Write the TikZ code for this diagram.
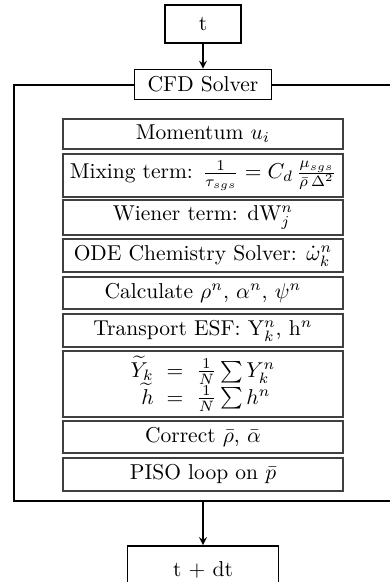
\documentclass[tikz,border=0pt]{standalone}
\usepackage{amsmath}
\begin{document}
\begin{tikzpicture}[x=0.465pt,y=-0.465pt,>=stealth,
  timebox/.style={draw,thick,inner sep=1pt},
  solverbox/.style={draw,fill=white,inner sep=1pt,minimum width=63.7pt,minimum height=14pt},
  stepbox/.style={draw=black!75,semithick,inner sep=1pt,minimum width=130.2pt}]
\useasboundingbox (0,0) rectangle (390,582);

% outer frame of the solver
\draw[thick] (14,85) rectangle (396,501);

\node[timebox,minimum width=35.3pt,minimum height=17.7pt] (t) at (203,24) {t};
\node[solverbox] (cfd) at (203,84) {CFD Solver};

\node[stepbox,minimum height=13.9pt] (mom) at (203,134) {Momentum $u_i$};
\node[stepbox,minimum height=20pt] (mix) at (203,175.5) {Mixing term: $\frac{1}{\tau_{sgs}} = C_d\,\frac{\mu_{sgs}}{\bar{\rho}\,\Delta^2}$};
\node[stepbox,minimum height=16.3pt] (wiener) at (203,217.5) {Wiener term: dW$_j^n$};
\node[stepbox,minimum height=15.3pt] (ode) at (203,255.5) {ODE Chemistry Solver: $\dot{\omega}_k^n$};
\node[stepbox,minimum height=14.9pt] (calc) at (203,293) {Calculate $\rho^n$, $\alpha^n$, $\psi^n$};
\node[stepbox,minimum height=15.3pt] (esf) at (203,330.5) {Transport ESF: Y$_k^n$, h$^n$};
\node[stepbox,minimum height=30.7pt] (avg) at (203,384) {\setlength{\arraycolsep}{3pt}$\begin{array}{rcl}
  \widetilde{Y}_k & = & \frac{1}{N}\sum Y_k^n\\[-1pt]
  \widetilde{h} & = & \frac{1}{N}\sum h^n
\end{array}$};
\node[stepbox,minimum height=14.9pt] (corr) at (203,437) {Correct $\bar{\rho}$, $\bar{\alpha}$};
\node[stepbox,minimum height=15.3pt] (piso) at (203,474.5) {PISO loop on $\bar{p}$};

\coordinate (out) at (203,501);
\node[timebox,minimum width=70.2pt,minimum height=22pt,anchor=north] (tdt) at (203,545) {t + dt};

\draw[->,semithick] (t) -- (cfd);
\draw[->,semithick] (out) -- (tdt);
\end{tikzpicture}
\end{document}
